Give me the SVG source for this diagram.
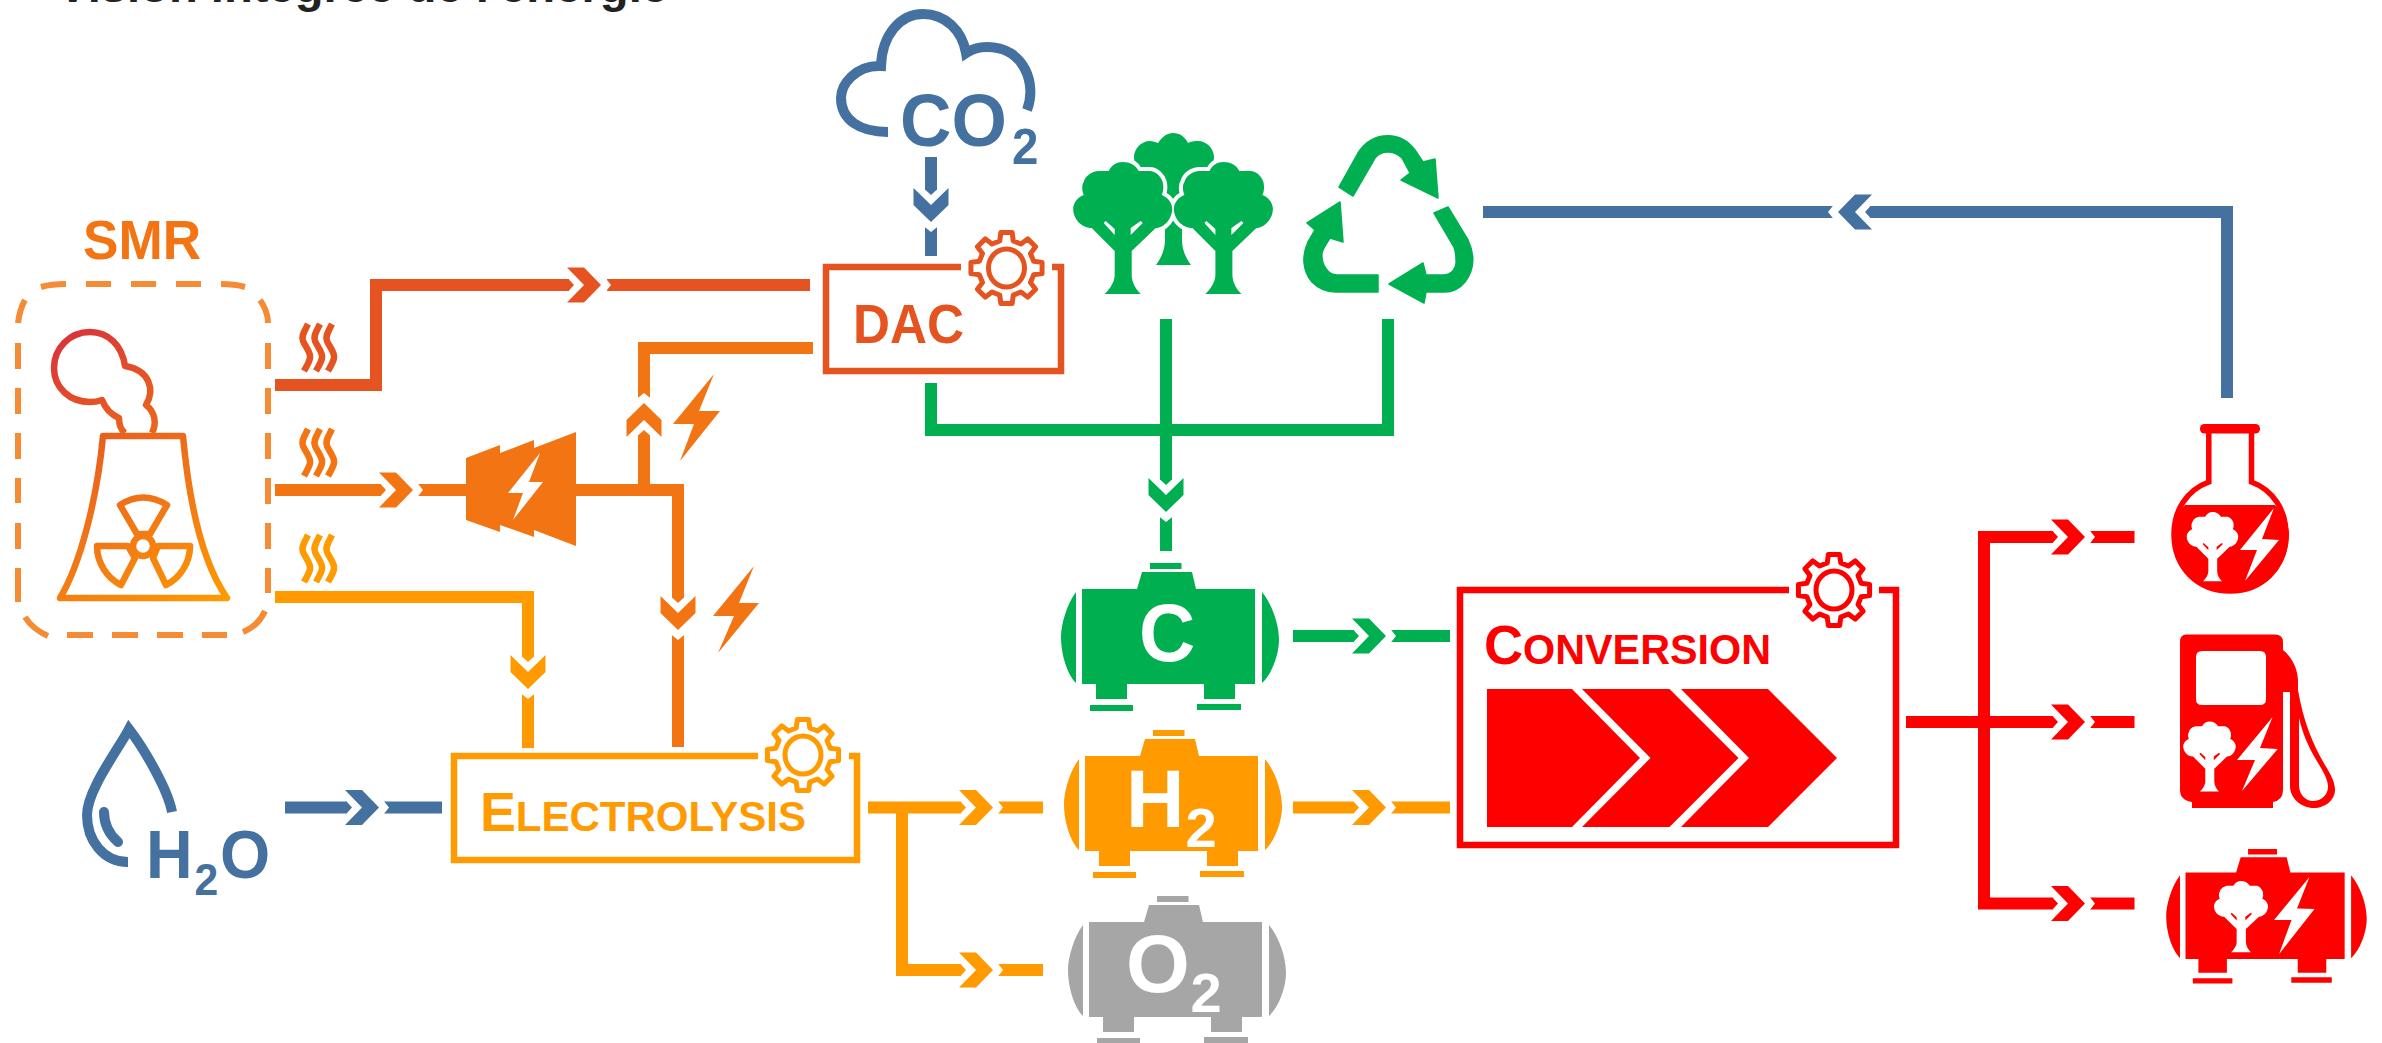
<svg xmlns="http://www.w3.org/2000/svg" width="2382" height="1043" viewBox="0 0 2382 1043">
<style>
text{font-family:"Liberation Sans",Arial,sans-serif;font-weight:700}
.ln{fill:none;stroke-width:12;stroke-linejoin:miter}
.box{fill:none;stroke-width:6.5}
.dk{stroke:#E55420}.og{stroke:#F37413}.am{stroke:#FF9A00}.bl{stroke:#44719F}.gr{stroke:#00B050}.rd{stroke:#FF0000}
.fdk{fill:#E55420}.fog{fill:#F37413}.fam{fill:#FF9A00}.fbl{fill:#44719F}.fgr{fill:#00B050}.frd{fill:#FF0000}.fgy{fill:#A6A6A6}.fw{fill:#fff}
.halo{fill:#fff;stroke:#fff;stroke-width:8}
</style>
<defs>
<g id="arr"><polygon points="-17,-17.5 0,-17.5 17,0 0,17.5 -17,17.5 0,0"/><polygon points="-15.5,-6 -10,0 -15.5,6"/><polygon points="21,-7.5 27,0 21,7.5" fill="#fff"/></g>
<g id="gear" fill="#fff" stroke-width="5" stroke-linejoin="round"><path d="M27.17,-6.77L35.56,-5.63 35.56,5.63 27.17,6.77 24,14.42 29.12,21.16 21.16,29.12 14.42,24 6.77,27.17 5.63,35.56 -5.63,35.56 -6.77,27.17 -14.42,24 -21.16,29.12 -29.12,21.16 -24,14.42 -27.17,6.77 -35.56,5.63 -35.56,-5.63 -27.17,-6.77 -24,-14.42 -29.12,-21.16 -21.16,-29.12 -14.42,-24 -6.77,-27.17 -5.63,-35.56 5.63,-35.56 6.77,-27.17 14.42,-24 21.16,-29.12 29.12,-21.16 24,-14.42Z"/><ellipse rx="18" ry="19"/></g>
<path id="tank" d="M0,0H55L60,-17H110L114,0H173V95H153V110H122V95H45V110H14V95H0ZM68,-26H99.5V-20H68ZM8,116H51V122H8ZM115,115H159V121H115ZM-6,3C-15,15-21,35-21,48C-21,65-15,85-6,94ZM180,3C190,15 197,35 197,51C197,65 190,85 180,94Z"/>
<path id="tree" fill-rule="evenodd" d="M-31,66C-42,66-49.500,56-49.500,47C-49.500,41-45,35-39,33C-41,28-41,23-39,20C-37,13-30,9-24,9C-20,9-17,9-14,9C-11,3-6,0 0,0C7,0 13,3 16,9C20,9 24,9 27,9C33,9 38,14 40,20C41,24 41,29 39,33C45,35 49.500,41 49.500,47C49.500,56 42,66 33,66L9,89V113C9,120 13,127 18,132H-18C-13,127-8,120-8,113V89ZM-19,61L-8,73V67L-17,59ZM20,61L8,73V66L18,59Z"/>
<path id="wave" fill="none" stroke-width="6.500" d="M9,2C5,10 2,14 4,19C7,26 12,30 11,36C10,41 7,45 5,49M21,2C17,10 14,14 16,19C19,26 24,30 23,36C22,41 19,45 17,49M33,2C29,10 26,14 28,19C31,26 36,30 35,36C34,41 31,45 29,49"/>
<linearGradient id="plant" gradientUnits="userSpaceOnUse" x1="60" y1="335" x2="225" y2="600"><stop offset="0" stop-color="#D9333A"/><stop offset=".35" stop-color="#E8601F"/><stop offset=".7" stop-color="#F37D13"/><stop offset="1" stop-color="#FF9A00"/></linearGradient>
</defs>
<rect width="2382" height="1043" fill="#fff"/>
<text x="57" y="2" font-size="47" fill="#222" textLength="611" lengthAdjust="spacingAndGlyphs">Vision intégrée de l'énergie</text>

<g id="connectors">
<path class="ln dk" d="M275,385H376V285H569M607,285H810"/>
<use href="#arr" transform="translate(584,285)" class="fdk"/>
<path class="ln og" d="M275,490H381M418,490H678V598M678,635V747M644,490V435M644,398V348H813"/>
<use href="#arr" transform="translate(396,490)" class="fog"/>
<use href="#arr" transform="translate(678,613) rotate(90)" class="fog"/>
<use href="#arr" transform="translate(644,420) rotate(-90)" class="fog"/>
<path class="ln am" d="M275,597H528V657M528,694V748"/>
<use href="#arr" transform="translate(528,672) rotate(90)" class="fam"/>
<path class="ln bl" d="M285,807.5H347M384,807.5H442"/>
<use href="#arr" transform="translate(362,807.5)" class="fbl"/>
<path class="ln bl" d="M931,157V190M931,227V256"/>
<use href="#arr" transform="translate(931,205) rotate(90)" class="fbl"/>
<path class="ln gr" d="M931,383V430H1388V319M1166,319V480M1166,517V551"/>
<use href="#arr" transform="translate(1166,495) rotate(90)" class="fgr"/>
<path class="ln gr" d="M1293,636H1354M1391,636H1450"/>
<use href="#arr" transform="translate(1369,636)" class="fgr"/>
<path class="ln am" d="M1293,807.5H1354M1391,807.5H1450"/>
<use href="#arr" transform="translate(1369,807.5)" class="fam"/>
<path class="ln am" d="M868,807.5H961M998,807.5H1043M902,807.5V970H961M998,970H1043"/>
<use href="#arr" transform="translate(976,807.5)" class="fam"/>
<use href="#arr" transform="translate(976,970)" class="fam"/>
<path class="ln rd" d="M1906,722H2053M2090,722H2134.500M1984,722V537H2053M2090,537H2134.500M1984,722V903.5H2053M2090,903.5H2134.500"/>
<use href="#arr" transform="translate(2068,537)" class="frd"/>
<use href="#arr" transform="translate(2068,722)" class="frd"/>
<use href="#arr" transform="translate(2068,903.5)" class="frd"/>
<path class="ln bl" d="M2227,398V212H1870M1833,212H1483"/>
<use href="#arr" transform="translate(1855,212) rotate(180)" class="fbl"/>
<use href="#wave" transform="translate(299,322)" class="dk"/>
<use href="#wave" transform="translate(299,427)" class="og"/>
<use href="#wave" transform="translate(299,533)" class="am"/>
<polygon class="fog" points="714,374 699,411 720,411 680,461 694,424 673,424"/>
<polygon class="fog" points="754,566 739,603 759,603 718,653 734,616 713,616"/>
</g>

<g id="smr">
<text x="83" y="259" font-size="55" class="fog" textLength="118" lengthAdjust="spacingAndGlyphs">SMR</text>
<path fill="none" stroke="#F58B34" stroke-width="6" d="M86,284H111M131,284H156M176,284H201M221,284C230,284 238,285 245,287M260,300C265,307 268,315 268,323M268,343V369M268,388V414M268,433V459M268,478V504M268,523V549M268,568V593M265,611C261,620 253,628 243,632M227,635H202M183,635H157M138,635H112M93,635H67M48,636C37,631 30,625 25,617M18,602V568M18,549V523M18,503V478M18,459V433M18,414V388M18,369V343M18,323C19,315 21,307 25,300M41,287C48,285 56,284 66,284"/>
<g fill="none" stroke="url(#plant)" stroke-width="6.500" stroke-linejoin="round">
<path d="M152,433C157,423 155,412 146,405C155,390 150,370 125,366C122,345 108,332 90,332C70,332 54,348 54,368C54,388 70,402 90,402C95,402 99,401 102,400C106,410 112,415 119,418C119,425 121,430 125,433"/>
<path d="M103,436H183C187,480 197,555 227,598H60C80,565 97,500 103,436Z"/>
<path d="M120,505Q143,490 167,505L150,534H137Z"/>
<path d="M97,546H128L135,558L121,585C107,578 97,563 97,546Z"/>
<path d="M190,546H158L153,558L166,585C180,578 190,563 190,546Z"/>
<circle cx="143" cy="546" r="10"/>
</g>
</g>

<g id="turbine">
<polygon class="fog" points="466,458 500,445 500,453 534,440 534,448 576,432 576,546 534,530 534,537 500,525 500,532 466,520"/>
<polygon class="fw" points="540,453 529,482 543,482 513,520 523,493 508,493"/>
</g>

<g id="co2">
<path fill="none" class="bl" stroke-width="10" d="M1027,110C1037,85 1025,47 987,47C980,47 972,49 966,53C962,30 945,14 923,14C900,14 882,35 881,66C855,65 841,85 841,98C841,120 860,132 888,132"/>
<text transform="translate(900,146) scale(.95,1)" font-size="75" class="fbl">CO<tspan x="118" y="18" font-size="50">2</tspan></text>
</g>

<g id="dac">
<path class="box dk" d="M961,267H826V371H1061V267H1052"/>
<use href="#gear" transform="translate(1006.500,268)" class="dk"/>
<text x="853" y="343" font-size="55" class="fdk" textLength="111" lengthAdjust="spacingAndGlyphs">DAC</text>
</g>

<g id="trees">
<path class="fgr" d="M1158,143C1162,137 1167,133 1173,133C1180,133 1185,137 1188,143C1192,141 1196,141 1198,141C1207,141 1214,149 1214,157C1214,165 1208,172 1200,174L1196,186 1175,208H1171L1150,186 1146,174C1139,172 1134,165 1134,157C1134,149 1141,141 1150,141C1153,141 1155,142 1158,143Z"/>
<path class="fgr" d="M1165,228L1173.500,219 1182,228V240C1182,250 1186,258 1191,265H1156C1161,258 1165,250 1165,240Z"/>
<use href="#tree" transform="translate(1122.700,162)" class="halo"/>
<use href="#tree" transform="translate(1223.400,162)" class="halo"/>
<use href="#tree" transform="translate(1122.700,162)" class="fgr"/>
<use href="#tree" transform="translate(1223.400,162)" class="fgr"/>
</g>

<g id="recycle" class="fgr gr" stroke-width="1.500" stroke-linejoin="round">
<path d="M1339,187L1358,153C1365,142 1376,135.700 1388,135.700C1400,135.700 1409,142 1415,150L1423,162 1435,159 1438,198 1401,180 1410,173 1402,158C1398,154 1393,152 1388,152C1383,152 1378,154 1375,158L1353,196Z"/>
<path d="M1434,213L1448,207 1468,240C1475,255 1474,270 1465,282C1460,288 1453,292 1445,292H1426L1424,303 1389,284 1423,263 1426,275H1443C1452,275 1457,268 1456,260C1456,255 1455,250 1454,247Z"/>
<path d="M1378,275H1337C1328,275 1321,265 1322,253C1323,248 1327,243 1330,238L1343,242 1340,202 1307,223 1315,230 1308,242C1302,255 1302,270 1312,282C1318,288 1326,292 1335,292H1378Z"/>
</g>

<g id="h2o">
<path fill="none" class="bl" stroke-width="10" d="M172,812C168,790 145,750 129,729C118,750 87,790 87,815C87,840 103,862 128,862"/>
<path fill="none" class="bl" stroke-width="10" stroke-linecap="round" d="M104,812C104,825 110,835 118,842"/>
<text transform="translate(146,878) scale(.95,1)" font-size="68" class="fbl">H<tspan x="51" y="17" font-size="45">2</tspan><tspan x="78" y="0">O</tspan></text>
</g>

<g id="electrolysis">
<path class="box am" d="M758,756H454V860H857V756H849"/>
<use href="#gear" transform="translate(803,755)" class="am"/>
<text x="480" y="831" font-size="55" class="fam" textLength="326" lengthAdjust="spacingAndGlyphs">E<tspan font-size="43">LECTROLYSIS</tspan></text>
</g>

<g id="tank-c">
<use href="#tank" transform="translate(1082,589)" class="fgr"/>
<text transform="translate(1139,661) scale(.95,1)" font-size="82" class="fw">C</text>
</g>
<g id="tank-h2">
<use href="#tank" transform="translate(1085,756)" class="fam"/>
<text x="1126" y="827" font-size="81" class="fw">H<tspan x="1185.500" y="847" font-size="56">2</tspan></text>
</g>
<g id="tank-o2">
<use href="#tank" transform="translate(1089,922)" class="fgy"/>
<text x="1126" y="992" font-size="82" class="fw">O<tspan x="1190.500" y="1012" font-size="56">2</tspan></text>
</g>

<g id="conversion">
<path class="box rd" d="M1789,590H1460V845H1896V590H1879"/>
<use href="#gear" transform="translate(1834,590)" class="rd"/>
<text x="1484" y="664" font-size="55" class="frd" textLength="287" lengthAdjust="spacingAndGlyphs">C<tspan font-size="42">ONVERSION</tspan></text>
<polygon class="frd" points="1487,689 1572,689 1640,758 1572,827 1487,827"/>
<polygon class="frd" points="1582,689 1669.500,689 1738.500,758 1669.500,827 1582,827 1650.500,758"/>
<polygon class="frd" points="1681,689 1768,689 1837,758 1768,827 1681,827 1749,758"/>
</g>

<g id="flask">
<path fill="none" class="rd" stroke-width="5.500" d="M2208.800,433V482C2187,490 2174,510 2174,534C2174,568 2198,591 2230,591C2262,591 2286,568 2286,534C2286,510 2273,490 2251.500,482V433"/>
<rect x="2200" y="424" width="60" height="9.500" rx="4.500" class="frd"/>
<path class="frd" d="M2185,505H2275C2284,515 2289,525 2289,534C2289,568 2263,593 2230,593C2197,593 2172,568 2172,534C2172,525 2176,515 2185,505Z"/>
<use href="#tree" transform="translate(2212.500,512) scale(.52,.525)" class="fw"/>
<polygon class="fw" points="2274,508 2262,539 2279,540 2245,581 2257,550 2240,550"/>
</g>

<g id="pump" transform="translate(3,0)">
<path class="frd" fill-rule="evenodd" d="M2184,634.500H2272Q2280,634.500 2280,642V650C2290,658 2295,670 2295,682V690C2300,720 2310,745 2322,765C2328,775 2332,782 2332,790C2332,800 2322,808 2311,808C2298,808 2287,798 2287,786V692H2280V790Q2280,800 2270,802V808H2189V802Q2177,800 2177,790V642Q2177,634 2184,634.500ZM2199,651H2257Q2263,651 2263,657V699Q2263,705 2257,705H2199Q2193,705 2193,699V657Q2193,651 2199,651ZM2296,718V785C2296,795 2303,801 2310,801C2318,801 2325,795 2325,787C2325,778 2318,768 2312,758C2305,745 2300,735 2296,718Z"/>
<use href="#tree" transform="translate(2206.500,721.600) scale(.53,.53)" class="fw"/>
<polygon class="fw" points="2269.600,717 2257,748 2274.700,749 2239,791 2252,760 2234,760"/>
</g>

<g id="tank-fuel" transform="translate(3.500,0)">
<use href="#tank" transform="translate(2182,872.600) scale(.92,.91)" class="frd"/>
<use href="#tree" transform="translate(2237.500,881) scale(.545,.54)" class="fw"/>
<polygon class="fw" points="2306,877 2293.500,908.500 2311,909 2275.600,954 2288,920 2270.600,920"/>
</g>
</svg>
